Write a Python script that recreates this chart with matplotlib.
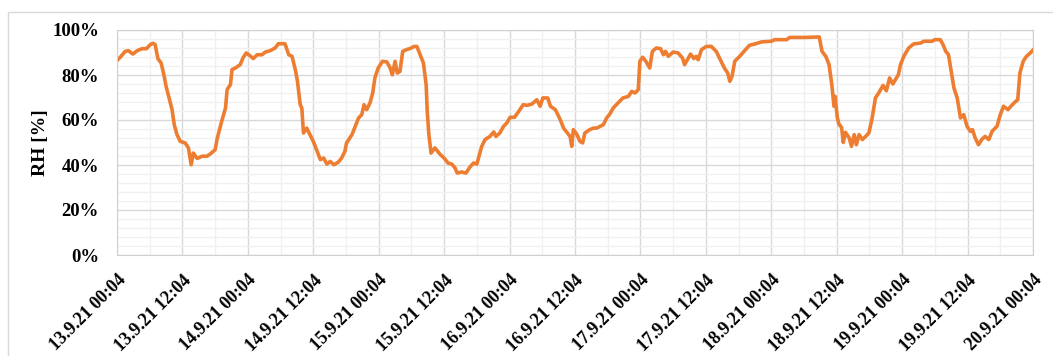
import matplotlib
matplotlib.use("Agg")
import matplotlib.pyplot as plt
from matplotlib.patches import Rectangle
from matplotlib.ticker import MultipleLocator, FuncFormatter
import pandas as pd

# relative humidity log, hours since 13.9.21 00:04
hours = [0.0, 0.6, 1.5, 2.1, 2.9, 3.7, 4.6, 5.4, 6.1, 6.6, 7.0, 7.5, 8.1, 8.6, 9.0,
         9.7, 10.1, 10.5, 11.0, 11.6, 12.5, 13.1, 13.6, 14.0, 14.7, 15.6, 16.5, 17.1,
         18.0, 18.4, 19.2, 19.9, 20.2, 20.8, 21.1, 21.7, 22.6, 23.1, 23.7, 24.3, 25.0,
         25.7, 26.6, 27.2, 28.1, 29.0, 29.6, 30.8, 31.5, 32.1, 32.7, 33.1, 33.6, 33.9,
         34.2, 34.8, 35.4, 36.0, 36.7, 37.3, 37.9, 38.5, 39.1, 39.8, 40.6, 41.2, 41.8,
         42.1, 43.1, 43.7, 44.3, 44.9, 45.3, 45.8, 46.4, 46.9, 47.3, 47.9, 48.7, 49.5,
         50.1, 50.5, 51.0, 51.4, 51.9, 52.4, 53.1, 53.7, 54.5, 55.0, 55.6, 56.2, 56.7,
         56.9, 57.2, 57.6, 58.3, 59.2, 60.1, 60.7, 61.4, 62.0, 62.4, 63.2, 64.0, 64.7,
         65.4, 66.0, 66.3, 66.9, 67.5, 68.4, 69.1, 69.5, 70.2, 70.9, 71.5, 72.1, 72.9,
         73.7, 74.5, 75.2, 76.1, 77.0, 77.6, 78.1, 79.0, 79.5, 80.4, 81.3, 81.9, 82.6,
         83.1, 83.4, 83.7, 84.3, 84.9, 85.4, 85.8, 86.7, 87.4, 88.0, 88.6, 89.2, 89.8,
         90.4, 91.0, 91.9, 92.8, 93.8, 94.4, 95.0, 95.6, 95.9, 96.4, 97.0, 97.7, 98.2,
         98.9, 99.7, 100.2, 100.6, 101.1, 102.0, 102.9, 103.7, 104.1, 104.8, 105.2,
         105.8, 106.2, 106.6, 107.2, 108.1, 109.0, 109.9, 110.8, 111.4, 112.0, 112.4,
         112.8, 113.3, 114.2, 115.1, 116.0, 117.0, 118.2, 120.0, 120.6, 122.8, 123.4,
         126.1, 128.8, 129.3, 130.0, 130.6, 131.1, 131.5, 131.7, 132.1, 132.4, 132.9,
         133.2, 133.6, 134.3, 134.7, 135.2, 135.6, 136.1, 136.7, 137.3, 137.9, 138.5,
         139.1, 139.7, 140.5, 141.1, 141.7, 142.3, 143.3, 143.7, 144.3, 145.2, 146.1,
         147.4, 148.0, 149.5, 150.0, 151.0, 151.5, 152.0, 152.5, 153.0, 153.5, 154.1,
         154.7, 155.3, 155.9, 156.5, 156.9, 157.4, 158.0, 158.6, 159.2, 159.9, 160.5,
         161.4, 162.0, 162.6, 163.4, 164.1, 164.7, 165.2, 165.6, 166.2, 166.8, 167.5,
         168.0]
rh = [86.4, 87.9, 90.5, 90.8, 89.3, 90.8, 91.7, 91.7, 93.5, 94.1, 93.5, 87.3, 85.3,
      80.1, 75.0, 68.3, 64.6, 57.9, 53.5, 50.5, 49.8, 47.6, 40.1, 45.3, 42.9, 43.9,
      43.9, 44.9, 46.8, 52.0, 59.4, 65.3, 73.5, 75.7, 82.4, 83.1, 84.6, 87.6, 89.8,
      88.7, 87.3, 89.0, 89.0, 90.2, 90.8, 92.0, 93.9, 93.9, 89.0, 88.3, 82.4, 77.2,
      66.8, 65.3, 54.2, 56.4, 53.5, 50.5, 46.1, 42.4, 43.1, 40.4, 41.6, 40.1, 41.3,
      43.1, 46.1, 49.8, 53.5, 57.2, 60.9, 62.4, 66.8, 64.6, 67.6, 72.0, 78.7, 83.1,
      86.1, 85.8, 83.1, 80.1, 86.1, 80.9, 81.6, 90.5, 91.3, 91.7, 92.7, 92.7, 89.0,
      85.3, 75.7, 63.9, 53.5, 45.3, 47.6, 44.9, 42.8, 40.9, 40.4, 38.7, 36.4, 36.9,
      36.4, 39.0, 40.9, 40.4, 43.1, 48.3, 51.3, 52.7, 54.7, 52.7, 54.2, 57.2, 58.7,
      61.2, 61.2, 63.9, 66.8, 66.5, 67.1, 69.0, 66.1, 69.8, 69.8, 66.1, 64.6, 60.1,
      56.4, 54.2, 52.7, 48.3, 55.7, 53.8, 50.5, 49.8, 54.2, 55.7, 56.4, 56.4, 57.2,
      57.9, 60.9, 62.7, 65.3, 67.6, 69.8, 70.5, 72.7, 72.0, 73.5, 86.1, 87.9, 86.1,
      83.1, 90.5, 92.0, 91.7, 89.0, 90.5, 88.3, 90.2, 89.8, 87.6, 84.6, 87.6, 89.3,
      87.3, 88.3, 86.8, 91.3, 92.7, 92.7, 90.5, 86.1, 83.1, 80.9, 77.2, 79.4, 86.1,
      88.3, 90.8, 93.2, 93.8, 94.7, 95.0, 95.7, 95.7, 96.7, 96.7, 96.9, 90.5, 88.3,
      84.6, 75.7, 66.1, 70.5, 61.2, 58.2, 56.7, 50.0, 54.5, 52.0, 48.3, 53.5, 49.0,
      53.5, 51.3, 52.7, 54.2, 60.9, 69.8, 72.0, 75.4, 73.0, 78.7, 76.0, 80.1, 84.6,
      88.3, 92.0, 93.8, 94.2, 95.0, 95.0, 95.7, 95.7, 93.5, 90.5, 89.0, 81.6, 74.2,
      69.8, 60.9, 62.4, 57.2, 55.0, 55.7, 52.0, 49.0, 51.3, 52.7, 51.3, 55.0, 57.2,
      62.4, 66.1, 64.6, 66.5, 68.0, 69.0, 80.9, 86.1, 88.3, 89.8, 91.1]

start = pd.Timestamp("2021-09-13 00:04")
end = pd.Timestamp("2021-09-20 00:04")
times = start + pd.to_timedelta(hours, unit="h")

plt.rcParams["font.family"] = "Liberation Serif"
plt.rcParams["font.weight"] = "bold"

fig = plt.figure(figsize=(10.53, 3.56), dpi=100)
fig.patches.append(Rectangle((8 / 1053, -0.1), 1.2, 1.1 - 12 / 356,
                             transform=fig.transFigure, fill=False,
                             edgecolor="#d9d9d9", linewidth=1.0))
ax = fig.add_axes([117 / 1053, 1 - 255 / 356, 916 / 1053, 225 / 356])

ax.plot(times, rh, color="#ED7D31", linewidth=2.6, solid_joinstyle="round")

ax.set_xlim(start, end)
ax.set_ylim(0, 100)

tick_times = pd.date_range(start, end, freq="12h")
ax.set_xticks(tick_times)
ax.set_xticklabels([t.strftime("%-d.%-m.%y %H:%M") for t in tick_times],
                   rotation=45, ha="right", rotation_mode="anchor", fontsize=13,
                   fontweight="bold")
ax.set_xticks(pd.date_range(start, end, freq="6h"), minor=True)

ax.yaxis.set_major_locator(MultipleLocator(20))
ax.yaxis.set_minor_locator(MultipleLocator(4))
ax.yaxis.set_major_formatter(FuncFormatter(lambda v, p: f"{v:.0f}%"))
for lab in ax.get_yticklabels():
    lab.set_fontsize(13.5)
    lab.set_fontweight("bold")

ax.grid(which="major", color="#d9d9d9", linewidth=1.0)
ax.grid(which="minor", color="#f0f0f0", linewidth=1.0)
ax.set_axisbelow(True)
ax.tick_params(which="both", length=0)
ax.tick_params(axis="y", pad=13)
ax.tick_params(axis="x", pad=12)
for s in ax.spines.values():
    s.set_color("#d0d0d0")

ax.set_ylabel("RH [%]", fontsize=14, fontweight="bold", labelpad=2)

fig.savefig("out.png", dpi=100)
